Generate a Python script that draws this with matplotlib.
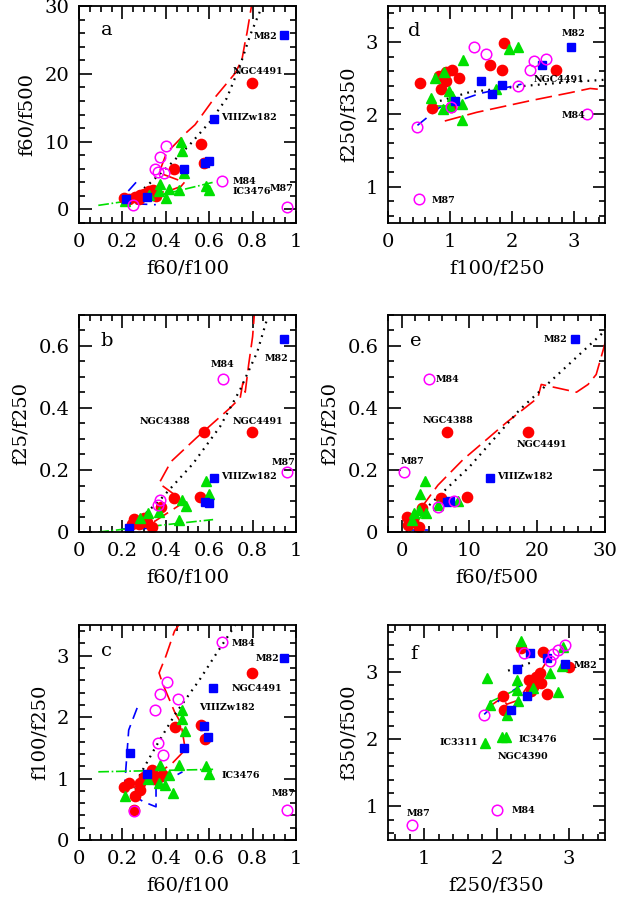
import numpy as np
import matplotlib
matplotlib.use('Agg')
import matplotlib.pyplot as plt
from matplotlib.ticker import MultipleLocator, FuncFormatter

plt.rcParams['font.family'] = ['DejaVu Serif']

RED = '#ff0000'
BLUE = '#0000ff'
GREEN = '#00e000'
MAG = '#ff00ff'

# ---- panel a : f60/f100 vs f60/f500 ----
a_red_x = [0.797, 0.561, 0.439, 0.576, 0.206, 0.232, 0.257, 0.279, 0.301, 0.322, 0.343, 0.354, 0.276]
a_red_y = [18.7, 9.7, 6.0, 6.8, 1.7, 1.6, 1.8, 2.1, 2.3, 2.7, 2.8, 2.0, 1.6]
a_blue_x = [0.945, 0.621, 0.598, 0.579, 0.483, 0.315, 0.215]
a_blue_y = [25.7, 13.3, 7.1, 6.8, 5.9, 1.9, 1.6]
a_mag_x = [0.660, 0.957, 0.403, 0.374, 0.349, 0.363, 0.393, 0.251]
a_mag_y = [4.15, 0.36, 9.4, 7.8, 5.9, 5.5, 5.3, 0.6]
a_grn_x = [0.470, 0.475, 0.486, 0.372, 0.369, 0.416, 0.400, 0.463, 0.587, 0.598, 0.322, 0.210]
a_grn_y = [9.9, 8.6, 5.3, 3.8, 2.7, 3.0, 1.7, 2.9, 3.5, 2.8, 2.2, 1.3]
a_dot = ([0.22, 0.307, 0.416, 0.509, 0.603, 0.681, 0.743, 0.79, 0.844],
         [1.3, 3.3, 6.5, 9.5, 12.9, 16.4, 21.3, 25.8, 30.0])
a_redl = ([0.21, 0.30, 0.42, 0.47, 0.486, 0.369, 0.403, 0.49, 0.535, 0.621, 0.634, 0.72, 0.751, 0.766, 0.774, 0.80],
          [1.5, 2.0, 2.8, 3.4, 4.0, 5.4, 8.3, 11.2, 12.5, 16.3, 16.8, 20.1, 22.1, 24.8, 26.0, 31.0])
a_bluel = ([0.263, 0.221, 0.205, 0.28, 0.354], [4.0, 2.5, 1.0, 0.8, 0.7])
a_grnl = ([0.089, 0.30, 0.45, 0.618], [0.6, 1.6, 2.7, 4.0])
a_labels = [('M82', 0.805, 25.5), ('NGC4491', 0.707, 20.4), ('VIIIZw182', 0.653, 13.6),
            ('M84', 0.707, 4.06), ('IC3476', 0.707, 2.6), ('M87', 0.879, 3.1)]

# ---- panel b : f60/f100 vs f25/f250 ----
b_red_x = [0.797, 0.576, 0.439, 0.559, 0.379, 0.252, 0.266, 0.289, 0.312, 0.336, 0.276, 0.245, 0.300]
b_red_y = [0.324, 0.321, 0.110, 0.114, 0.081, 0.043, 0.033, 0.037, 0.033, 0.017, 0.025, 0.025, 0.045]
b_blue_x = [0.945, 0.621, 0.579, 0.598, 0.230]
b_blue_y = [0.622, 0.175, 0.097, 0.095, 0.012]
b_mag_x = [0.662, 0.958, 0.372, 0.366]
b_mag_y = [0.495, 0.193, 0.103, 0.087]
b_grn_x = [0.583, 0.598, 0.474, 0.491, 0.369, 0.319, 0.463, 0.280]
b_grn_y = [0.164, 0.122, 0.103, 0.085, 0.064, 0.062, 0.039, 0.045]
b_dot = ([0.26, 0.369, 0.525, 0.65, 0.743, 0.821, 0.868],
         [0.03, 0.10, 0.22, 0.34, 0.46, 0.58, 0.69])
b_redl = ([0.24, 0.35, 0.486, 0.369, 0.424, 0.54, 0.696, 0.743, 0.755, 0.766, 0.782, 0.80, 0.81],
          [0.02, 0.035, 0.097, 0.157, 0.227, 0.303, 0.40, 0.433, 0.481, 0.451, 0.541, 0.63, 0.72])
b_bluel = ([0.20, 0.35], [0.010, 0.012])
b_grnl = ([0.089, 0.618], [0.0, 0.04])
b_labels = [('M84', 0.606, 0.541), ('M82', 0.857, 0.559), ('NGC4388', 0.28, 0.355),
            ('NGC4491', 0.707, 0.355), ('M87', 0.888, 0.225), ('VIIIZw182', 0.653, 0.178)]

# ---- panel c : f60/f100 vs f100/f250 ----
c_red_x = [0.797, 0.561, 0.579, 0.444, 0.335, 0.299, 0.369, 0.385, 0.280, 0.280, 0.232, 0.209, 0.257, 0.252, 0.346]
c_red_y = [2.72, 1.875, 1.65, 1.84, 1.14, 1.03, 1.03, 1.06, 0.92, 0.815, 0.92, 0.87, 0.72, 0.49, 1.0]
c_blue_x = [0.945, 0.618, 0.575, 0.595, 0.483, 0.234, 0.315]
c_blue_y = [2.96, 2.48, 1.85, 1.67, 1.50, 1.42, 1.08]
c_mag_x = [0.660, 0.405, 0.374, 0.349, 0.458, 0.366, 0.389, 0.252, 0.957]
c_mag_y = [3.23, 2.57, 2.38, 2.12, 2.30, 1.58, 1.39, 0.47, 0.49]
c_grn_x = [0.474, 0.474, 0.489, 0.372, 0.463, 0.583, 0.598, 0.416, 0.369, 0.397, 0.319, 0.435, 0.210]
c_grn_y = [2.12, 1.97, 1.77, 1.22, 1.22, 1.21, 1.08, 1.06, 0.92, 0.90, 0.99, 0.76, 0.71]
c_dot = ([0.252, 0.276, 0.354, 0.447, 0.556, 0.634, 0.696, 0.72],
         [0.71, 1.03, 1.52, 2.07, 2.61, 3.04, 3.37, 3.5])
c_redl = ([0.25, 0.35, 0.43, 0.49, 0.47, 0.44, 0.385, 0.369, 0.40, 0.44, 0.48],
          [0.85, 1.05, 1.25, 1.47, 1.9, 2.09, 2.55, 2.72, 2.99, 3.4, 3.6])
c_bluel = ([0.268, 0.229, 0.21, 0.241, 0.295, 0.355, 0.355, 0.42, 0.477],
           [2.15, 1.79, 0.87, 0.76, 0.625, 0.54, 0.92, 1.0, 1.11])
c_grnl = ([0.089, 0.618], [1.11, 1.15])
c_labels = [('M84', 0.704, 3.2), ('M82', 0.813, 2.96), ('NGC4491', 0.704, 2.47),
            ('VIIIZw182', 0.551, 2.16), ('IC3476', 0.657, 1.05), ('M87', 0.886, 0.76)]

# ---- panel d : f100/f250 vs f250/f350 ----
d_red_x = [0.512, 0.717, 0.824, 0.862, 0.932, 0.943, 1.04, 1.147, 1.013, 1.643, 1.832, 1.869, 2.709]
d_red_y = [2.43, 2.09, 2.53, 2.35, 2.47, 2.59, 2.61, 2.51, 2.10, 2.68, 2.61, 2.99, 2.62]
d_blue_x = [2.946, 2.478, 1.498, 1.843, 1.67, 1.078]
d_blue_y = [2.94, 2.68, 2.47, 2.41, 2.29, 2.18]
d_mag_x = [3.215, 0.50, 0.475, 1.39, 1.573, 2.10, 2.289, 2.359, 2.547, 1.01]
d_mag_y = [2.0, 0.83, 1.83, 2.93, 2.84, 2.39, 2.62, 2.74, 2.77, 2.10]
d_grn_x = [1.21, 0.754, 0.90, 0.69, 0.889, 0.98, 1.04, 1.20, 1.20, 1.955, 2.10, 1.74, 0.996]
d_grn_y = [2.75, 2.50, 2.59, 2.23, 2.08, 2.33, 2.26, 2.15, 1.92, 2.91, 2.93, 2.35, 2.12]
d_dot = ([0.728, 1.32, 2.13, 2.93, 3.5], [2.16, 2.31, 2.39, 2.45, 2.48])
d_redl = ([0.916, 1.43, 2.29, 2.93, 3.26, 3.5], [1.91, 2.03, 2.19, 2.30, 2.36, 2.34])
d_bluel = ([0.475, 0.835, 1.48, 2.155], [1.85, 2.10, 2.29, 2.42])
d_grnl = ([0.78, 1.10], [2.12, 2.12])
d_labels = [('M82', 2.80, 3.12), ('NGC4491', 2.354, 2.48), ('M84', 2.80, 1.98), ('M87', 0.70, 0.81)]

# ---- panel e : f60/f500 vs f25/f250 ----
e_red_x = [18.6, 6.74, 9.6, 5.85, 3.0, 0.84, 1.2, 1.7, 2.55, 0.93]
e_red_y = [0.324, 0.321, 0.114, 0.110, 0.079, 0.047, 0.033, 0.037, 0.016, 0.021]
e_blue_x = [25.6, 13.1, 6.7, 7.1]
e_blue_y = [0.622, 0.175, 0.097, 0.100]
e_mag_x = [4.03, 0.3, 7.67, 5.36]
e_mag_y = [0.495, 0.193, 0.100, 0.081]
e_grn_x = [3.4, 2.75, 1.9, 2.6, 8.3, 5.36, 3.6, 1.5]
e_grn_y = [0.164, 0.122, 0.060, 0.070, 0.099, 0.086, 0.060, 0.040]
e_dot = ([0.7, 1.7, 10.0, 17.4, 22.8, 29.7], [0.0, 0.037, 0.21, 0.394, 0.503, 0.643])
e_redl = ([0.84, 5.36, 9.04, 12.2, 15.4, 20.1, 20.6, 25.8, 27.5, 28.7, 29.9, 30.5],
          [0.017, 0.151, 0.233, 0.292, 0.352, 0.433, 0.476, 0.451, 0.476, 0.508, 0.60, 0.66])
e_bluel = ([0.7, 3.9], [0.008, 0.008])
e_grnl = ([0.84, 3.9], [-0.01, 0.08])
e_labels = [('M82', 21.0, 0.62), ('M84', 5.0, 0.492), ('NGC4388', 3.15, 0.36),
            ('NGC4491', 16.9, 0.281), ('M87', -0.2, 0.227), ('VIIIZw182', 14.1, 0.178)]

# ---- panel f : f250/f350 vs f350/f500 ----
f_red_x = [2.334, 2.638, 3.0, 2.6, 2.453, 2.58, 2.51, 2.61, 2.694, 2.084, 2.10, 2.55, 2.48]
f_red_y = [3.36, 3.30, 3.07, 2.98, 2.88, 2.85, 2.78, 2.83, 2.67, 2.64, 2.44, 2.92, 2.72]
f_blue_x = [2.947, 2.47, 2.694, 2.29, 2.417, 2.195]
f_blue_y = [3.12, 3.28, 3.21, 3.05, 2.64, 2.43]
f_mag_x = [0.832, 2.0, 1.83, 2.38, 2.74, 2.78, 2.846, 2.947]
f_mag_y = [0.72, 0.94, 2.36, 3.28, 3.16, 3.27, 3.33, 3.40]
f_grn_x = [2.334, 1.863, 2.278, 2.74, 2.855, 2.29, 2.30, 2.14, 1.91, 2.50, 2.90, 1.84, 2.07, 2.13, 2.92]
f_grn_y = [3.46, 2.91, 2.88, 2.99, 2.70, 2.73, 2.57, 2.36, 2.51, 2.76, 3.09, 1.95, 2.03, 2.03, 3.37]
f_dot = ([2.16, 2.5], [3.02, 3.15])
f_redl = ([1.88, 2.08, 2.14, 2.30, 2.45, 2.60, 2.72], [2.47, 2.62, 2.52, 2.58, 2.82, 3.0, 3.2])
f_bluel = ([1.83, 2.08, 2.45, 2.56], [2.37, 2.62, 2.88, 2.98])
f_grnl = ([1.90, 2.30], [2.55, 2.75])
f_labels = [('M82', 3.06, 3.10), ('IC3311', 1.206, 1.95), ('IC3476', 2.30, 2.0),
            ('NGC4390', 2.015, 1.75), ('M84', 2.21, 0.94), ('M87', 0.763, 0.90)]


def fmt(v, pos):
    return '%g' % round(v, 3)


def draw(ax, red, blue, mag, grn, dot, redl, bluel, grnl, labels):
    ax.plot(*redl, color=RED, lw=1.2, dashes=(10, 4))
    ax.plot(*dot, color='k', lw=1.6, ls=(0, (0.8, 2.4)))
    ax.plot(*bluel, color=BLUE, lw=1.2, dashes=(7, 4))
    ax.plot(*grnl, color=GREEN, lw=1.2, ls='-.')
    ax.plot(*red, 'o', color=RED, ms=7.4, mec=RED)
    ax.plot(*grn, '^', color=GREEN, ms=6.8, mec=GREEN)
    ax.plot(*blue, 's', color=BLUE, ms=5.4, mec=BLUE)
    ax.plot(*mag, 'o', mfc='none', mec=MAG, mew=1.1, ms=7.6)
    for t, x, y in labels:
        ax.text(x, y, t, fontsize=6.8, fontweight='bold', ha='left', va='center')


def style(ax, xlim, ylim, xt, yt, xlab, ylab, letter, lx, ly):
    ax.set_xlim(*xlim)
    ax.set_ylim(*ylim)
    ax.xaxis.set_major_locator(MultipleLocator(xt[0]))
    ax.xaxis.set_minor_locator(MultipleLocator(xt[1]))
    ax.yaxis.set_major_locator(MultipleLocator(yt[0]))
    ax.yaxis.set_minor_locator(MultipleLocator(yt[1]))
    ax.xaxis.set_major_formatter(FuncFormatter(fmt))
    ax.yaxis.set_major_formatter(FuncFormatter(fmt))
    ax.tick_params(which='both', direction='in', top=True, right=True, width=1.2, labelsize=14, pad=7)
    ax.tick_params(which='major', length=9)
    ax.tick_params(which='minor', length=4.5)
    for s in ax.spines.values():
        s.set_linewidth(1.3)
    ax.set_xlabel(xlab, fontsize=14, labelpad=6)
    ax.set_ylabel(ylab, fontsize=14, labelpad=6)
    ax.text(lx, ly, letter, fontsize=14, ha='left', va='center')


fig = plt.figure(figsize=(6.17, 9.02), dpi=100)
L, R, W = 79 / 617, 388 / 617, 217 / 617
H = 217 / 902
axa = fig.add_axes([L, 1 - 223 / 902, W, H])
axd = fig.add_axes([R, 1 - 223 / 902, W, H])
axb = fig.add_axes([L, 1 - 532 / 902, W, H])
axe = fig.add_axes([R, 1 - 532 / 902, W, H])
axc = fig.add_axes([L, 1 - 840 / 902, W, 215 / 902])
axf = fig.add_axes([R, 1 - 840 / 902, W, 215 / 902])

draw(axa, (a_red_x, a_red_y), (a_blue_x, a_blue_y), (a_mag_x, a_mag_y), (a_grn_x, a_grn_y),
     a_dot, a_redl, a_bluel, a_grnl, a_labels)
style(axa, (0, 1), (-2, 30), (0.2, 0.05), (10, 2), 'f60/f100', 'f60/f500', 'a', 0.1, 26.5)

draw(axb, (b_red_x, b_red_y), (b_blue_x, b_blue_y), (b_mag_x, b_mag_y), (b_grn_x, b_grn_y),
     b_dot, b_redl, b_bluel, b_grnl, b_labels)
style(axb, (0, 1), (0, 0.7), (0.2, 0.05), (0.2, 0.05), 'f60/f100', 'f25/f250', 'b', 0.1, 0.616)

draw(axc, (c_red_x, c_red_y), (c_blue_x, c_blue_y), (c_mag_x, c_mag_y), (c_grn_x, c_grn_y),
     c_dot, c_redl, c_bluel, c_grnl, c_labels)
style(axc, (0, 1), (0, 3.5), (0.2, 0.05), (1, 0.2), 'f60/f100', 'f100/f250', 'c', 0.1, 3.07)

draw(axd, (d_red_x, d_red_y), (d_blue_x, d_blue_y), (d_mag_x, d_mag_y), (d_grn_x, d_grn_y),
     d_dot, d_redl, d_bluel, d_grnl, d_labels)
style(axd, (0, 3.5), (0.5, 3.5), (1, 0.2), (1, 0.2), 'f100/f250', 'f250/f350', 'd', 0.32, 3.16)

draw(axe, (e_red_x, e_red_y), (e_blue_x, e_blue_y), (e_mag_x, e_mag_y), (e_grn_x, e_grn_y),
     e_dot, e_redl, e_bluel, e_grnl, e_labels)
style(axe, (-2, 30), (0, 0.7), (10, 2), (0.2, 0.05), 'f60/f500', 'f25/f250', 'e', 1.2, 0.616)

draw(axf, (f_red_x, f_red_y), (f_blue_x, f_blue_y), (f_mag_x, f_mag_y), (f_grn_x, f_grn_y),
     f_dot, f_redl, f_bluel, f_grnl, f_labels)
style(axf, (0.5, 3.5), (0.5, 3.7), (1, 0.2), (1, 0.2), 'f250/f350', 'f350/f500', 'f', 0.81, 3.27)

fig.savefig('out.png', dpi=100)
